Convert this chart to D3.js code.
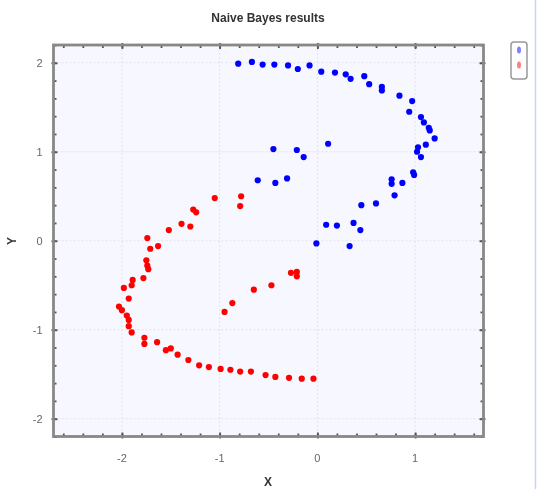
<!DOCTYPE html>
<html>
<head>
<meta charset="utf-8">
<script src="https://cdn.jsdelivr.net/npm/d3@7"></script>
<style>
  body { margin: 0; background: #fff; }
  svg { display: block; filter: blur(0.7px); }
  text { font-family: "Liberation Sans", Arial, sans-serif; }
</style>
</head>
<body>
<svg id="chart"></svg>
<script>
// class 1 (blue) and class 2 (red) points
const blueX = [-0.81, -0.67, -0.56, -0.44, -0.30, -0.20, -0.08, 0.04, 0.18, 0.29, 0.34, 0.48, 0.53, 0.66, 0.66,
  0.84, 0.97, 0.94, 1.06, 1.09, 1.14, 1.15, 1.20, 1.11, 1.03, 1.02, 1.06, 0.98, 0.99, 0.76, 0.76, 0.87, 0.79,
  0.60, 0.45, -0.45, -0.21, -0.14, 0.11, -0.61, -0.43, -0.31, 0.09, 0.20, 0.37, 0.44, -0.01, 0.33];
const blueY = [1.99, 2.01, 1.98, 1.98, 1.97, 1.93, 1.97, 1.90, 1.89, 1.87, 1.82, 1.85, 1.76, 1.73, 1.69,
  1.63, 1.57, 1.45, 1.39, 1.33, 1.27, 1.24, 1.15, 1.08, 1.05, 1.00, 0.94, 0.77, 0.74, 0.69, 0.64, 0.65, 0.51,
  0.42, 0.40, 1.03, 1.02, 0.94, 1.09, 0.68, 0.65, 0.70, 0.18, 0.17, 0.20, 0.12, -0.03, -0.06];

const redX = [-1.05, -0.78, -0.79, -1.27, -1.24, -1.39, -1.30, -1.52, -1.74, -1.71, -1.63, -1.75, -1.74, -1.73,
  -1.78, -1.89, -1.90, -1.98, -1.93, -2.03, -2.00, -1.95, -1.93, -1.93, -1.90, -1.77, -1.77, -1.64, -1.55,
  -1.50, -1.43, -1.32, -1.21, -1.11, -0.99, -0.89, -0.79, -0.68, -0.53, -0.43, -0.29, -0.16, -0.04,
  -0.95, -0.87, -0.65, -0.47, -0.27, -0.21, -0.21];
const redY = [0.48, 0.50, 0.39, 0.35, 0.32, 0.19, 0.16, 0.12, 0.03, -0.09, -0.06, -0.22, -0.28, -0.32,
  -0.42, -0.44, -0.50, -0.53, -0.65, -0.74, -0.78, -0.84, -0.89, -0.96, -1.03, -1.09, -1.16, -1.14, -1.23,
  -1.21, -1.28, -1.34, -1.40, -1.42, -1.44, -1.45, -1.47, -1.47, -1.51, -1.53, -1.54, -1.55, -1.55,
  -0.80, -0.70, -0.55, -0.50, -0.36, -0.35, -0.40];

const xMajor = [-2, -1, 0, 1];
const yMajor = [-2, -1, 0, 1, 2];

const W = 537, H = 489;
const L = 53.5, R = 483.5, T = 45, B = 436.5;

const svg = d3.select("#chart").attr("width", W).attr("height", H);

const x = d3.scaleLinear().domain([-2.7, 1.7]).range([L, R]);
const y = d3.scaleLinear().domain([-2.2, 2.2]).range([B, T]);

const xMinor = d3.range(-2.6, 1.65, 0.2).map(v => +v.toFixed(1));
const yMinor = d3.range(-2.2, 2.25, 0.2).map(v => +v.toFixed(1));

// plot background
svg.append("rect")
  .attr("x", L).attr("y", T).attr("width", R - L).attr("height", B - T)
  .attr("fill", "#f7f7ff");

// dotted grid at major ticks
svg.append("g").selectAll("line").data(xMajor).join("line")
  .attr("x1", d => x(d)).attr("x2", d => x(d)).attr("y1", T).attr("y2", B)
  .attr("stroke", "#e2e2ea").attr("stroke-dasharray", "2,2");
svg.append("g").selectAll("line").data(yMajor).join("line")
  .attr("x1", L).attr("x2", R).attr("y1", d => y(d)).attr("y2", d => y(d))
  .attr("stroke", "#e2e2ea").attr("stroke-dasharray", "2,2");

// axes with ticks on all four sides
const tickCol = "#555";
function side(axisFn, scale, vals, size, tr) {
  const g = svg.append("g").attr("transform", tr)
    .call(axisFn(scale).tickValues(vals).tickSize(size).tickFormat(""));
  g.select(".domain").remove();
  g.selectAll("line").attr("stroke", tickCol).attr("stroke-width", 1.8);
}
side(d3.axisBottom, x, xMinor, -3, `translate(0,${B})`);
side(d3.axisBottom, x, xMajor, -6, `translate(0,${B + 2})`);
side(d3.axisTop, x, xMinor, -3, `translate(0,${T})`);
side(d3.axisTop, x, xMajor, -6, `translate(0,${T - 2})`);
side(d3.axisLeft, y, yMinor, -3, `translate(${L},0)`);
side(d3.axisLeft, y, yMajor, -6, `translate(${L - 2},0)`);
side(d3.axisRight, y, yMinor, -3, `translate(${R},0)`);
side(d3.axisRight, y, yMajor, -6, `translate(${R + 2},0)`);

// frame
svg.append("rect")
  .attr("x", L).attr("y", T).attr("width", R - L).attr("height", B - T)
  .attr("fill", "none").attr("stroke", "#888").attr("stroke-width", 2.8);

// tick labels
svg.append("g").selectAll("text").data(xMajor).join("text")
  .attr("x", d => x(d)).attr("y", B + 25)
  .attr("text-anchor", "middle").attr("font-size", 11).attr("fill", "#666")
  .text(d => d);
svg.append("g").selectAll("text").data(yMajor).join("text")
  .attr("x", L - 11).attr("y", d => y(d) + 4)
  .attr("text-anchor", "end").attr("font-size", 11).attr("fill", "#666")
  .text(d => d);

// points
svg.append("g").selectAll("circle").data(redX.map((v, i) => [v, redY[i]])).join("circle")
  .attr("cx", d => x(d[0])).attr("cy", d => y(d[1])).attr("r", 3.1).attr("fill", "#ff0000");
svg.append("g").selectAll("circle").data(blueX.map((v, i) => [v, blueY[i]])).join("circle")
  .attr("cx", d => x(d[0])).attr("cy", d => y(d[1])).attr("r", 3.1).attr("fill", "#0000ff");

// title and axis names
svg.append("text").attr("x", 268).attr("y", 22).attr("text-anchor", "middle")
  .attr("font-size", 12).attr("font-weight", "bold").attr("fill", "#333").text("Naive Bayes results");
svg.append("text").attr("x", 268).attr("y", 486).attr("text-anchor", "middle")
  .attr("font-size", 12).attr("font-weight", "bold").attr("fill", "#333").text("X");
svg.append("text").attr("x", 16).attr("y", 241).attr("text-anchor", "middle")
  .attr("font-size", 12).attr("font-weight", "bold").attr("fill", "#333")
  .attr("transform", "rotate(-90,16,241)").text("Y");

// legend
svg.append("rect").attr("x", 511).attr("y", 42).attr("width", 16).attr("height", 37).attr("rx", 3)
  .attr("fill", "#fff").attr("stroke", "#999").attr("stroke-width", 1.5);
svg.append("ellipse").attr("cx", 519).attr("cy", 50).attr("rx", 2).attr("ry", 3.5).attr("fill", "#7f7fff");
svg.append("ellipse").attr("cx", 519).attr("cy", 65).attr("rx", 2).attr("ry", 3.5).attr("fill", "#ff8080");

// window edge line
svg.append("line").attr("x1", 535.5).attr("x2", 535.5).attr("y1", 0).attr("y2", H)
  .attr("stroke", "#c6d6ee").attr("stroke-width", 1.5);
</script>
</body>
</html>
